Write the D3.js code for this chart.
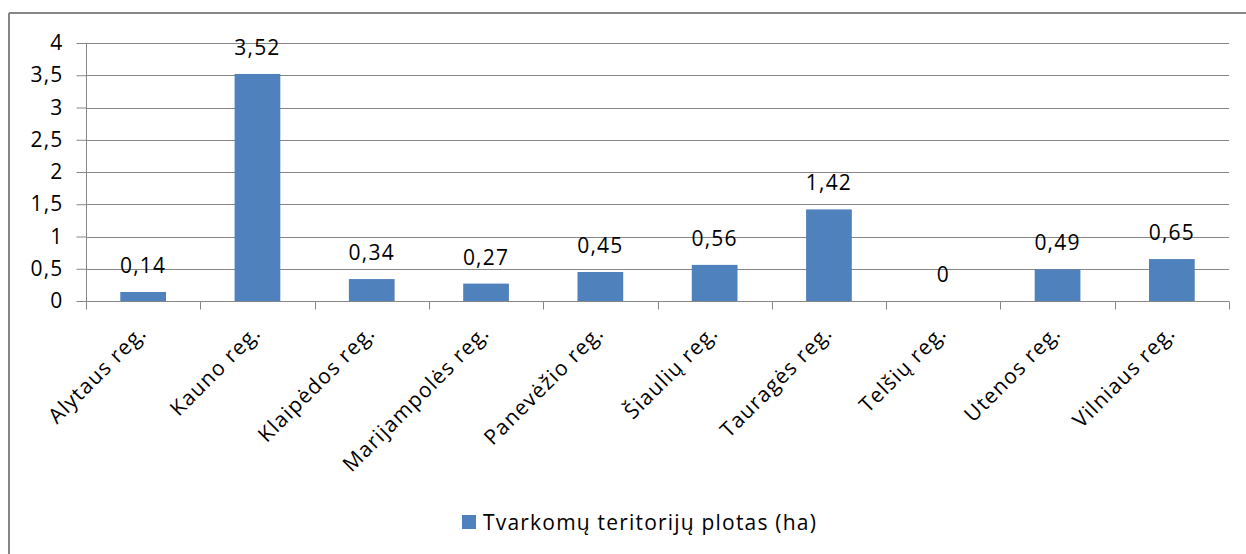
<!DOCTYPE html>
<html>
<head>
<meta charset="utf-8">
<script src="https://cdn.jsdelivr.net/npm/d3@7"></script>
<style>
  body { margin: 0; background: #fff; }
  svg { display: block; }
  text { font-family: "Open Sans", sans-serif; fill: #000; letter-spacing: 1.2px; }
</style>
</head>
<body>
<svg id="chart" width="1246" height="554"></svg>
<script>
// data
var regions = ["Alytaus reg.", "Kauno reg.", "Klaipėdos reg.", "Marijampolės reg.", "Panevėžio reg.",
  "Šiaulių reg.", "Tauragės reg.", "Telšių reg.", "Utenos reg.", "Vilniaus reg."];
var plotas = [0.14, 3.52, 0.34, 0.27, 0.45, 0.56, 1.42, 0, 0.49, 0.65];
var yTicks = [0, 0.5, 1, 1.5, 2, 2.5, 3, 3.5, 4];
var seriesName = "Tvarkomų teritorijų plotas (ha)";

var svg = d3.select("#chart");
var plotLeft = 86, plotRight = 1229, plotTop = 43, plotBottom = 301;
var fs = "21px";
var fmt = function(v) { return String(v).replace(".", ","); };

// outer chart frame (only top and left edges visible)
svg.append("line").attr("x1", 9).attr("x2", 1246).attr("y1", 13).attr("y2", 13)
  .attr("stroke", "#868686").attr("stroke-width", 2);
svg.append("line").attr("x1", 9).attr("x2", 9).attr("y1", 13).attr("y2", 554)
  .attr("stroke", "#868686").attr("stroke-width", 2);

var x = d3.scaleBand().domain(regions).range([plotLeft, plotRight]).paddingInner(0.6).paddingOuter(0.3);
var xb = d3.scaleBand().domain(regions).range([plotLeft, plotRight]);
var y = d3.scaleLinear().domain([0, 4]).range([plotBottom, plotTop]);

// gridlines
svg.append("g").selectAll("line").data(yTicks.slice(1)).enter().append("line")
  .attr("x1", plotLeft).attr("x2", plotRight)
  .attr("y1", function(d) { return Math.round(y(d)) + 0.5; })
  .attr("y2", function(d) { return Math.round(y(d)) + 0.5; })
  .attr("stroke", "#868686").attr("stroke-width", 1);

// y axis
var gy = svg.append("g").attr("transform", "translate(" + (plotLeft + 0.5) + ",0)")
  .call(d3.axisLeft(y).tickValues(yTicks).tickFormat(fmt).tickSize(10).tickPadding(13));
gy.select(".domain").attr("stroke", "#868686").attr("d", "M0," + plotTop + "V" + plotBottom);
gy.selectAll(".tick line").attr("stroke", "#868686");
gy.selectAll(".tick text").attr("font-size", fs).attr("fill", "#000")
  .attr("font-family", "'Open Sans', sans-serif");

// bars
svg.append("g").selectAll("rect").data(plotas).enter().append("rect")
  .attr("x", function(d, i) { return x(regions[i]); })
  .attr("width", x.bandwidth())
  .attr("y", function(d) { return y(d); })
  .attr("height", function(d) { return plotBottom - y(d); })
  .attr("fill", "#4f81bd");

// x axis
var gx = svg.append("g").attr("transform", "translate(0," + (plotBottom + 0.5) + ")");
gx.append("line").attr("x1", plotLeft).attr("x2", plotRight).attr("stroke", "#868686");
gx.selectAll(".tk").data(d3.range(regions.length + 1)).enter().append("line")
  .attr("x1", function(i) { return Math.round(plotLeft + i * xb.bandwidth()) + 0.5; })
  .attr("x2", function(i) { return Math.round(plotLeft + i * xb.bandwidth()) + 0.5; })
  .attr("y1", 0).attr("y2", 8).attr("stroke", "#868686");

gx.selectAll(".lbl").data(regions).enter().append("text")
  .attr("transform", function(d) {
    return "translate(" + (xb(d) + xb.bandwidth() / 2 - 6) + ",22) rotate(-45)";
  })
  .attr("text-anchor", "end")
  .attr("dy", "0.71em")
  .attr("font-size", fs)
  .text(function(d) { return d; });

// data labels
svg.append("g").selectAll("text").data(plotas).enter().append("text")
  .attr("x", function(d, i) { return xb(regions[i]) + xb.bandwidth() / 2; })
  .attr("y", function(d) { return y(d) - 19; })
  .attr("text-anchor", "middle")
  .attr("font-size", fs)
  .text(fmt);

// legend
var lg = svg.append("g").attr("transform", "translate(462,515)");
lg.append("rect").attr("width", 14).attr("height", 14).attr("fill", "#4f81bd");
lg.append("text").attr("x", 21).attr("y", 15).attr("font-size", fs).text(seriesName);
</script>
</body>
</html>
